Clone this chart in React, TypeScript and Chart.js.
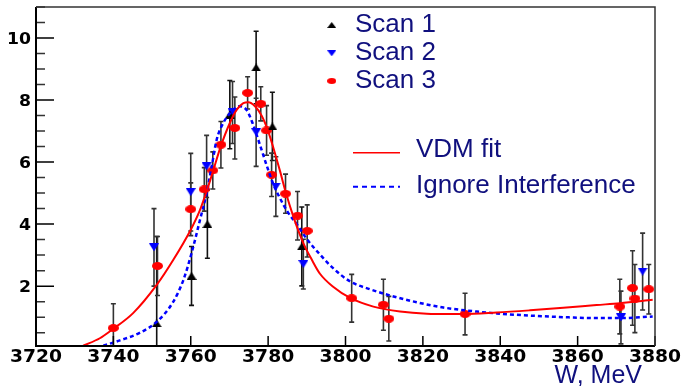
import React, { useEffect, useRef } from 'react';
import { Chart, registerables } from 'chart.js';
Chart.register(...registerables);

// ---- axes ----
const X_MIN = 3720;
const X_MAX = 3880;
const Y_MIN = 0.07;
const Y_MAX = 11;
const X_TICKS = [3720, 3740, 3760, 3780, 3800, 3820, 3840, 3860, 3880];
const Y_TICKS = [2, 4, 6, 8, 10];

// ---- Scan 1 (black, up triangles) ----
const SCAN1_X = [3751.2, 3760.2, 3764.3, 3770.1, 3776.9, 3781.1, 3788.7];
const SCAN1_Y = [0.8, 2.33, 4.0, 7.53, 9.05, 7.15, 3.28];
const SCAN1_ERR = [2.8, 0.95, 1.1, 1.1, 1.17, 1.1, 1.27];

// ---- Scan 2 (blue, down triangles) ----
const SCAN2_X = [3750.5, 3760.0, 3764.1, 3770.8, 3776.9, 3782.0, 3789.1, 3871.2, 3876.8];
const SCAN2_Y = [3.25, 5.03, 5.86, 7.6, 6.96, 5.21, 2.71, 0.99, 2.47];
const SCAN2_ERR = [1.25, 1.25, 1.0, 1.0, 1.1, 0.96, 0.8, 0.85, 1.24];

// ---- Scan 3 (red, circles) ----
const SCAN3_X = [3740, 3751.4, 3760, 3763.5, 3765.7, 3767.8, 3771.4, 3774.7, 3778.1, 3779.6, 3780.9, 3784.5, 3787.6, 3790.1, 3801.6, 3809.8, 3811.2, 3830.9, 3870.9, 3874.2, 3874.8, 3878.4];
const SCAN3_Y = [0.65, 2.65, 4.48, 5.12, 5.73, 6.56, 7.1, 8.23, 7.88, 7.02, 5.59, 4.98, 4.27, 3.78, 1.61, 1.40, 0.95, 1.10, 1.34, 1.94, 1.6, 1.9];
const SCAN3_ERR = [0.78, 0.95, 0.85, 0.7, 0.6, 0.75, 1.0, 0.52, 0.55, 0.8, 0.7, 0.63, 0.78, 0.84, 0.77, 0.82, 0.72, 0.67, 0.88, 1.2, 1.1, 0.8];

// ---- VDM fit (red solid) ----
const VDM_X = [3732.2, 3736.5, 3739.6, 3745.1, 3751.2, 3755.5, 3760.0, 3762.4, 3764.5, 3765.8, 3767.6, 3770.1, 3771.9, 3773.6, 3774.9, 3776.6, 3778.3, 3780.0, 3781.5, 3783.1, 3784.5, 3786.5, 3789.1, 3791.3, 3793.4, 3796.8, 3801.2, 3807.2, 3814.1, 3821.0, 3827.0, 3830.4, 3839.1, 3847.7, 3856.3, 3864.9, 3870.9, 3879.4];
const VDM_Y = [0.08, 0.32, 0.59, 1.13, 2.04, 2.85, 3.82, 4.46, 5.21, 5.72, 6.45, 7.26, 7.69, 7.9, 7.93, 7.8, 7.5, 7.0, 6.4, 5.7, 5.05, 4.25, 3.39, 2.85, 2.4, 1.98, 1.62, 1.34, 1.18, 1.11, 1.10, 1.10, 1.15, 1.22, 1.30, 1.39, 1.45, 1.56];

// ---- Ignore Interference (blue dashed) ----
const IGN_X = [3737.4, 3741.7, 3746.9, 3751.2, 3755.5, 3758.1, 3760.2, 3762.4, 3764.1, 3765.4, 3766.7, 3768.4, 3770.6, 3772.5, 3774.5, 3776.2, 3777.9, 3779.6, 3781.3, 3783.0, 3785.0, 3787.4, 3790.0, 3793.4, 3796.8, 3801.2, 3806.3, 3811.5, 3818.4, 3825.3, 3833.9, 3839.1, 3847.7, 3856.3, 3864.9, 3870.9, 3879.4];
const IGN_Y = [0.08, 0.25, 0.5, 0.85, 1.5, 2.2, 3.06, 4.14, 5.0, 5.85, 6.72, 7.26, 7.63, 7.8, 7.67, 7.18, 6.55, 5.9, 5.3, 4.85, 4.4, 4.0, 3.52, 3.02, 2.58, 2.15, 1.9, 1.7, 1.48, 1.31, 1.18, 1.12, 1.05, 1.0, 0.97, 0.97, 1.02];

// ---- text ----
const SCAN_LABELS = ['Scan 1', 'Scan 2', 'Scan 3'];
const CURVE_LABELS = ['VDM fit', 'Ignore Interference'];
const X_TITLE = 'W, MeV';
const TEXT_COLOR = '#10107e';
const TICK_FONT = '"DejaVu Sans", sans-serif';

function makeMarker(shape: string, w: number, h: number, color: string) {
  const c = document.createElement('canvas');
  c.width = w;
  c.height = h;
  const ctx = c.getContext('2d')!;
  ctx.fillStyle = color;
  ctx.beginPath();
  if (shape === 'up') {
    ctx.moveTo(w / 2, 0);
    ctx.lineTo(w, h);
    ctx.lineTo(0, h);
  } else if (shape === 'down') {
    ctx.moveTo(0, 0);
    ctx.lineTo(w, 0);
    ctx.lineTo(w / 2, h);
  } else {
    ctx.ellipse(w / 2, h / 2, w / 2, h / 2, 0, 0, Math.PI * 2);
  }
  ctx.closePath();
  ctx.fill();
  return c;
}

const zip = (xs: number[], ys: number[]) => xs.map((x, i) => ({ x, y: ys[i] }));

export default function App() {
  const ref = useRef<HTMLCanvasElement | null>(null);

  useEffect(() => {
    document.body.style.margin = '0';
    const canvas = ref.current;
    if (!canvas) return;

    const mUp = makeMarker('up', 10, 8, '#000000');
    const mDown = makeMarker('down', 10, 8, '#0000ff');
    const mCirc = makeMarker('circle', 11, 8, '#ff0000');
    const lUp = makeMarker('up', 9, 6, '#000000');
    const lDown = makeMarker('down', 9, 6, '#0000ff');
    const lCirc = makeMarker('circle', 9, 6, '#ff0000');

    const errorBars = {
      id: 'errorBars',
      beforeDatasetsDraw(chart: any) {
        const { ctx, chartArea, scales } = chart;
        const xs = scales.x;
        const ys = scales.y;
        ctx.save();
        ctx.beginPath();
        ctx.rect(chartArea.left, chartArea.top, chartArea.right - chartArea.left, chartArea.bottom - chartArea.top);
        ctx.clip();
        chart.data.datasets.forEach((ds: any) => {
          const errs = ds.errors;
          if (!errs) return;
          ctx.strokeStyle = ds.errorColor;
          ctx.lineWidth = 1.6;
          ds.data.forEach((p: any, i: number) => {
            const px = xs.getPixelForValue(p.x);
            const y1 = ys.getPixelForValue(p.y + errs[i]);
            const y2 = ys.getPixelForValue(p.y - errs[i]);
            ctx.beginPath();
            ctx.moveTo(px, y1);
            ctx.lineTo(px, y2);
            ctx.moveTo(px - 2.5, y1);
            ctx.lineTo(px + 2.5, y1);
            ctx.moveTo(px - 2.5, y2);
            ctx.lineTo(px + 2.5, y2);
            ctx.stroke();
          });
        });
        ctx.restore();
      },
    };

    const frame = {
      id: 'frame',
      afterDraw(chart: any) {
        const { ctx, chartArea, scales } = chart;
        const { left, right, top, bottom } = chartArea;
        const xs = scales.x;
        const ys = scales.y;
        ctx.save();
        // tick labels (stretched bold, like the original)
        ctx.fillStyle = '#000';
        ctx.textBaseline = 'alphabetic';
        ctx.font = 'bold 17px ' + TICK_FONT;
        ctx.textAlign = 'center';
        xs.ticks.forEach((t: any) => {
          const px = xs.getPixelForValue(t.value);
          ctx.save();
          ctx.translate(px, bottom + 16);
          ctx.scale(1.1, 1);
          ctx.fillText(String(t.value), 0, 0);
          ctx.restore();
        });
        ctx.font = 'bold 15px ' + TICK_FONT;
        ctx.textAlign = 'right';
        ys.ticks.forEach((t: any) => {
          const py = ys.getPixelForValue(t.value);
          ctx.save();
          ctx.translate(left - 5, py + 6);
          ctx.scale(1.15, 1);
          ctx.fillText(String(t.value), 0, 0);
          ctx.restore();
        });
        // ticks
        ctx.strokeStyle = '#000';
        ctx.lineWidth = 1.5;
        ctx.beginPath();
        xs.ticks.forEach((t: any) => {
          const px = xs.getPixelForValue(t.value);
          ctx.moveTo(px, bottom);
          ctx.lineTo(px, bottom - 10);
        });
        ys.ticks.forEach((t: any) => {
          const py = ys.getPixelForValue(t.value);
          ctx.moveTo(left, py);
          ctx.lineTo(left + 18, py);
        });
        ctx.stroke();
        // minor y ticks (quarter of the major step)
        const vals = ys.ticks.map((t: any) => t.value);
        if (vals.length > 1) {
          const step = (vals[1] - vals[0]) / 4;
          ctx.strokeStyle = '#333';
          ctx.beginPath();
          for (let v = vals[0]; v <= ys.max + 1e-9; v += step) {
            if (vals.some((m: number) => Math.abs(m - v) < 1e-6)) continue;
            const py = ys.getPixelForValue(v);
            ctx.moveTo(left, py);
            ctx.lineTo(left + 9, py);
          }
          for (let v = vals[0] - step; v >= ys.min; v -= step) {
            const py = ys.getPixelForValue(v);
            ctx.moveTo(left, py);
            ctx.lineTo(left + 9, py);
          }
          ctx.stroke();
        }
        // frame
        ctx.strokeStyle = '#000';
        ctx.lineWidth = 2;
        ctx.beginPath();
        ctx.moveTo(left, top);
        ctx.lineTo(left, bottom);
        ctx.lineTo(right, bottom);
        ctx.stroke();
        ctx.strokeStyle = '#333';
        ctx.lineWidth = 1.5;
        ctx.beginPath();
        ctx.moveTo(left, top);
        ctx.lineTo(right, top);
        ctx.lineTo(right, bottom);
        ctx.stroke();
        ctx.restore();
      },
    };

    const legend = {
      id: 'customLegend',
      afterDraw(chart: any) {
        const { ctx } = chart;
        ctx.save();
        const markers = [lUp, lDown, lCirc];
        const my = [25, 53.3, 81];
        const by = [32.3, 60, 87.7];
        ctx.font = '26px "Liberation Sans", Arial, sans-serif';
        ctx.fillStyle = TEXT_COLOR;
        ctx.textAlign = 'left';
        ctx.textBaseline = 'alphabetic';
        SCAN_LABELS.forEach((s, i) => {
          const m = markers[i];
          ctx.drawImage(m, 331.7 - m.width / 2, my[i] - m.height / 2);
          ctx.fillText(s, 355, by[i]);
        });
        // curves
        ctx.lineWidth = 1.5;
        ctx.strokeStyle = '#ff0000';
        ctx.beginPath();
        ctx.moveTo(353, 152.7);
        ctx.lineTo(400, 152.7);
        ctx.stroke();
        ctx.strokeStyle = '#0000ff';
        ctx.lineWidth = 2;
        ctx.setLineDash([5, 4]);
        ctx.beginPath();
        ctx.moveTo(353, 186.7);
        ctx.lineTo(400, 186.7);
        ctx.stroke();
        ctx.setLineDash([]);
        ctx.fillText(CURVE_LABELS[0], 416, 157);
        ctx.fillText(CURVE_LABELS[1], 416, 193);
        // axis title
        ctx.font = '25px "Liberation Sans", Arial, sans-serif';
        ctx.textAlign = 'right';
        ctx.fillText(X_TITLE, 642, 383);
        ctx.restore();
      },
    };

    const chart = new Chart(canvas, {
      type: 'scatter',
      data: {
        datasets: [
          {
            label: 'VDM fit',
            data: zip(VDM_X, VDM_Y),
            showLine: true,
            borderColor: '#ff0000',
            borderWidth: 2,
            pointRadius: 0,
            cubicInterpolationMode: 'monotone',
          } as any,
          {
            label: 'Ignore Interference',
            data: zip(IGN_X, IGN_Y),
            showLine: true,
            borderColor: '#0000ff',
            borderWidth: 2.5,
            borderDash: [4, 3],
            pointRadius: 0,
            cubicInterpolationMode: 'monotone',
          } as any,
          {
            label: 'Scan 1',
            data: zip(SCAN1_X, SCAN1_Y),
            pointStyle: mUp,
            pointRadius: 5,
            errors: SCAN1_ERR,
            errorColor: '#111',
          } as any,
          {
            label: 'Scan 2',
            data: zip(SCAN2_X, SCAN2_Y),
            pointStyle: mDown,
            pointRadius: 5,
            errors: SCAN2_ERR,
            errorColor: '#333',
          } as any,
          {
            label: 'Scan 3',
            data: zip(SCAN3_X, SCAN3_Y),
            pointStyle: mCirc,
            pointRadius: 5,
            errors: SCAN3_ERR,
            errorColor: '#333',
          } as any,
        ],
      },
      options: {
        animation: false,
        responsive: true,
        maintainAspectRatio: false,
        layout: { padding: { top: 7, right: 28, left: 0, bottom: 0 } },
        plugins: { legend: { display: false }, tooltip: { enabled: false } },
        scales: {
          x: {
            type: 'linear',
            min: X_MIN,
            max: X_MAX,
            afterBuildTicks: (s: any) => {
              s.ticks = X_TICKS.map((v) => ({ value: v }));
            },
            afterFit: (s: any) => {
              s.height = 40;
            },
            ticks: { display: false },
            grid: { display: false, drawTicks: false },
            border: { display: false },
          },
          y: {
            type: 'linear',
            min: Y_MIN,
            max: Y_MAX,
            afterBuildTicks: (s: any) => {
              s.ticks = Y_TICKS.map((v) => ({ value: v }));
            },
            afterFit: (s: any) => {
              s.width = 36;
            },
            ticks: { display: false },
            grid: { display: false, drawTicks: false },
            border: { display: false },
          },
        },
      } as any,
      plugins: [errorBars, frame, legend],
    });
    return () => chart.destroy();
  }, []);

  return (
    <div style={{ position: 'relative', width: 683, height: 386 }}>
      <canvas ref={ref} />
    </div>
  );
}
